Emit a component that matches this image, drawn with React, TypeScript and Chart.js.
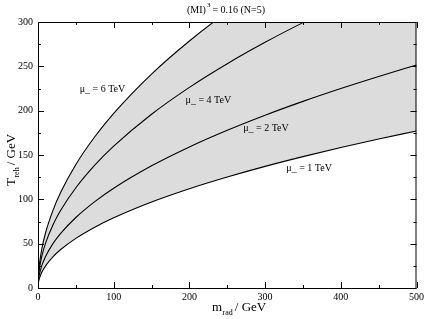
import React, { useEffect, useRef } from "react";
import { Chart, registerables } from "chart.js";

Chart.register(...registerables);

const massValues = [0, 0.25, 1, 2, 5, 10, 20, 30, 50, 75, 100, 150, 200, 250, 300, 350, 400, 450, 500];
const mu6Values = [0, 9.85, 19.7, 27.9, 44.0, 62.3, 88.1, 107.9, 139.3, 170.6, 197.0, 241.3, 278.6, 311.5, 341.2, 368.6, 394.0, 417.9, 440.5];
const mu4Values = [0, 8.0, 16.0, 22.6, 35.8, 50.6, 71.6, 87.6, 113.1, 138.6, 160.0, 196.0, 226.3, 253.0, 277.1, 299.3, 320.0, 339.4, 357.8];
const mu2Values = [0, 5.6, 11.25, 15.9, 25.2, 35.6, 50.3, 61.6, 79.5, 97.4, 112.5, 137.8, 159.1, 177.9, 194.9, 210.5, 225.0, 238.6, 251.6];
const mu1Values = [0, 4.0, 7.9, 11.2, 17.7, 25.0, 35.4, 43.4, 56.0, 68.6, 79.2, 97.0, 112.0, 125.2, 137.2, 148.2, 158.4, 168.0, 177.1];

const curveLabels = ["μ_ = 6 TeV", "μ_ = 4 TeV", "μ_ = 2 TeV", "μ_ = 1 TeV"];
const labelX = [55, 195, 271, 328];
const labelY = [224, 212, 180, 135];

const xMajorTicks = [0, 100, 200, 300, 400, 500];
const xMinorTicks = [50, 150, 250, 350, 450];
const yMajorTicks = [0, 50, 100, 150, 200, 250, 300];
const yMinorTicks = [25, 75, 125, 175, 225, 275];

const SERIF = "'Liberation Serif', 'DejaVu Serif', serif";

const decorPlugin = {
  id: "decor",
  afterDatasetsDraw(chart: any) {
    const ctx = chart.ctx;
    const xs = chart.scales.x;
    const ys = chart.scales.y;
    const a = chart.chartArea;
    ctx.save();
    ctx.strokeStyle = "#000";
    ctx.lineWidth = 1;
    ctx.beginPath();
    const tick = (v: number, len: number) => {
      const px = Math.round(xs.getPixelForValue(v)) + 0.5;
      ctx.moveTo(px, a.bottom);
      ctx.lineTo(px, a.bottom - len);
      ctx.moveTo(px, a.top);
      ctx.lineTo(px, a.top + len);
    };
    const tickY = (v: number, len: number) => {
      const py = Math.round(ys.getPixelForValue(v)) + 0.5;
      ctx.moveTo(a.left, py);
      ctx.lineTo(a.left + len, py);
      ctx.moveTo(a.right, py);
      ctx.lineTo(a.right - len, py);
    };
    xMajorTicks.forEach((v) => tick(v, 6));
    xMinorTicks.forEach((v) => tick(v, 3));
    yMajorTicks.forEach((v) => tickY(v, 6));
    yMinorTicks.forEach((v) => tickY(v, 3));
    ctx.stroke();
    ctx.strokeRect(a.left + 0.5, a.top + 0.5, a.right - a.left - 1, a.bottom - a.top);

    // curve labels
    ctx.fillStyle = "#000";
    ctx.font = `10px ${SERIF}`;
    ctx.textBaseline = "middle";
    ctx.textAlign = "left";
    curveLabels.forEach((t, i) => {
      ctx.fillText(t, xs.getPixelForValue(labelX[i]), ys.getPixelForValue(labelY[i]));
    });

    // title
    ctx.textBaseline = "alphabetic";
    ctx.font = `10px ${SERIF}`;
    let x = 187;
    ctx.fillText("(MI)", x, 13);
    x += ctx.measureText("(MI)").width + 1;
    ctx.font = `7px ${SERIF}`;
    ctx.fillText("3", x, 7);
    x += ctx.measureText("3").width + 2;
    ctx.font = `10px ${SERIF}`;
    ctx.fillText("= 0.16 (N=5)", x, 13);

    // x axis title
    ctx.font = `13px ${SERIF}`;
    x = 212;
    ctx.fillText("m", x, 311);
    x += ctx.measureText("m").width + 0.5;
    ctx.font = `8px ${SERIF}`;
    ctx.fillText("rad", x, 315);
    x += ctx.measureText("rad").width + 2;
    ctx.font = `13px ${SERIF}`;
    ctx.fillText("/ GeV", x, 311);

    // y axis title
    ctx.save();
    ctx.translate(15, 186);
    ctx.rotate(-Math.PI / 2);
    ctx.font = `13px ${SERIF}`;
    let yx = 0;
    ctx.fillText("T", yx, 0);
    yx += ctx.measureText("T").width + 0.5;
    ctx.font = `8px ${SERIF}`;
    ctx.fillText("reh", yx, 4);
    yx += ctx.measureText("reh").width + 2;
    ctx.font = `13px ${SERIF}`;
    ctx.fillText("/ GeV", yx, 0);
    ctx.restore();

    ctx.restore();
  },
};

export default function App() {
  const ref = useRef<HTMLCanvasElement>(null);
  useEffect(() => {
    if (!ref.current) return;
    const mk = (d: number[]) => massValues.map((m, i) => ({ x: m, y: d[i] }));
    const lineStyle = {
      borderColor: "#000",
      borderWidth: 1.1,
      pointRadius: 0,
      cubicInterpolationMode: "monotone" as const,
    };
    const chart = new Chart(ref.current, {
      type: "line",
      data: {
        datasets: [
          { ...lineStyle, data: mk(mu6Values), fill: 3, backgroundColor: "#dcdcdc" },
          { ...lineStyle, data: mk(mu4Values), fill: false },
          { ...lineStyle, data: mk(mu2Values), fill: false },
          { ...lineStyle, data: mk(mu1Values), fill: false },
        ],
      },
      options: {
        animation: false,
        responsive: false,
        maintainAspectRatio: false,
        layout: { padding: { top: 22, right: 9, left: 0, bottom: 0 } },
        plugins: {
          legend: { display: false },
          tooltip: { enabled: false },
          filler: { drawTime: "beforeDatasetsDraw" },
        },
        scales: {
          x: {
            type: "linear",
            min: 0,
            max: 500,
            afterFit: (s: any) => {
              s.height = 31;
            },
            grid: { display: false, drawTicks: false },
            border: { display: false },
            ticks: {
              stepSize: 100,
              color: "#000",
              padding: 3,
              maxRotation: 0,
              font: { family: SERIF, size: 10 },
            },
          },
          y: {
            type: "linear",
            min: 0,
            max: 300,
            afterFit: (s: any) => {
              s.width = 38;
            },
            grid: { display: false, drawTicks: false },
            border: { display: false },
            ticks: {
              stepSize: 50,
              color: "#000",
              padding: 5,
              font: { family: SERIF, size: 10 },
            },
          },
        },
      },
      plugins: [decorPlugin],
    });
    return () => chart.destroy();
  }, []);
  return (
    <div style={{ position: "absolute", left: 0, top: 0, width: 427, height: 319, background: "#fff" }}>
      <canvas ref={ref} width={427} height={319} style={{ display: "block" }} />
    </div>
  );
}
